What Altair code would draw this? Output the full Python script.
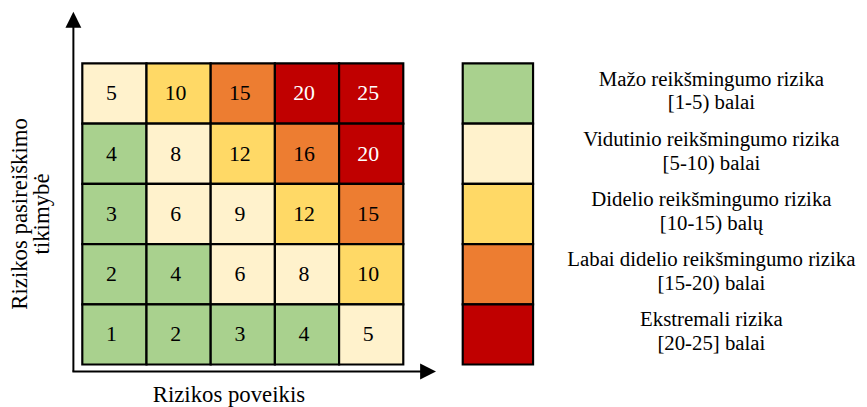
import altair as alt
import pandas as pd

# ---- data ----
impact_levels = [1, 2, 3, 4, 5]          # columns, left -> right
likelihood_levels = [5, 4, 3, 2, 1]      # rows, top -> bottom
score_rows = [
    [5, 10, 15, 20, 25],
    [4, 8, 12, 16, 20],
    [3, 6, 9, 12, 15],
    [2, 4, 6, 8, 10],
    [1, 2, 3, 4, 5],
]
level_names = ["Mažo", "Vidutinio", "Didelio", "Labai didelio", "Ekstremali"]
level_lower = [1, 5, 10, 15, 20]
level_colors = ["#A9D18E", "#FFF2CC", "#FFD966", "#ED7D31", "#C00000"]
level_labels = [
    "Mažo reikšmingumo rizika\n[1-5) balai",
    "Vidutinio reikšmingumo rizika\n[5-10) balai",
    "Didelio reikšmingumo rizika\n[10-15) balų",
    "Labai didelio reikšmingumo rizika\n[15-20) balai",
    "Ekstremali rizika\n[20-25] balai",
]
x_title = "Rizikos poveikis"
y_title = "Rizikos pasireiškimo\ntikimybė"

FONT = "Liberation Serif, Times New Roman, Times, serif"


def level_of(score):
    name = level_names[0]
    for lo, nm in zip(level_lower, level_names):
        if score >= lo:
            name = nm
    return name


rows = []
for li, srow in zip(likelihood_levels, score_rows):
    for im, s in zip(impact_levels, srow):
        lv = level_of(s)
        rows.append({
            "impact": im, "likelihood": li, "score": s, "level": lv,
            "tcolor": "white" if lv == level_names[-1] else "black",
        })
cells = pd.DataFrame(rows)
legend_df = pd.DataFrame({"level": level_names, "label": level_labels})
one = pd.DataFrame({"k": [0]})

color_scale = alt.Scale(domain=level_names, range=level_colors)
xs = alt.X("impact:O", sort=impact_levels, axis=None,
           scale=alt.Scale(paddingInner=0, paddingOuter=0))
ys = alt.Y("likelihood:O", sort=likelihood_levels, axis=None,
           scale=alt.Scale(paddingInner=0, paddingOuter=0))

cell_rect = alt.Chart(cells).mark_rect(stroke="black", strokeWidth=2.2).encode(
    x=xs, y=ys, color=alt.Color("level:N", scale=color_scale, legend=None)
)
cell_text = alt.Chart(cells).mark_text(font=FONT, fontSize=22, dx=-3).encode(
    x=xs, y=ys, text="score:Q", color=alt.Color("tcolor:N", scale=None)
)
matrix = alt.layer(cell_rect, cell_text)

ly = alt.Y("level:N", sort=level_names, axis=None,
           scale=alt.Scale(paddingInner=0, paddingOuter=0))
leg_rect = alt.Chart(legend_df).mark_rect(stroke="black", strokeWidth=2.2).encode(
    x=alt.value(384), x2=alt.value(455), y=ly,
    color=alt.Color("level:N", scale=color_scale, legend=None)
)
leg_text = alt.Chart(legend_df).mark_text(
    font=FONT, fontSize=21, lineBreak="\n", lineHeight=24, dy=-14, color="black"
).encode(x=alt.value(635), y=ly, text="label:N")
legend = alt.layer(leg_rect, leg_text)

# axis arrows
v_line = alt.Chart(one).mark_rule(color="black", strokeWidth=2).encode(
    x=alt.value(-9), y=alt.value(-46), y2=alt.value(311)
)
h_line = alt.Chart(one).mark_rule(color="black", strokeWidth=2).encode(
    x=alt.value(-10), x2=alt.value(350), y=alt.value(311)
)
up_head = alt.Chart(one).mark_point(
    shape="M-1,1L0,-1L1,1Z", filled=True, color="black", opacity=1, size=256, strokeWidth=0
).encode(x=alt.value(-9), y=alt.value(-44))
right_head = alt.Chart(one).mark_point(
    shape="M-1,-1L1,0L-1,1Z", filled=True, color="black", opacity=1, size=256, strokeWidth=0
).encode(x=alt.value(349), y=alt.value(311))

x_title_mark = alt.Chart(pd.DataFrame({"t": [x_title]})).mark_text(
    font=FONT, fontSize=23, baseline="alphabetic", color="black"
).encode(x=alt.value(148), y=alt.value(342), text="t:N")
y_title_mark = alt.Chart(pd.DataFrame({"t": [y_title]})).mark_text(
    font=FONT, fontSize=23, angle=270, align="center", baseline="middle",
    lineBreak="\n", lineHeight=22, color="black"
).encode(x=alt.value(-63), y=alt.value(152), text="t:N")

chart = alt.layer(
    matrix, legend, v_line, h_line, up_head, right_head, x_title_mark, y_title_mark
).resolve_scale(y="independent", x="independent").properties(
    width=324, height=304,
    autosize=alt.AutoSizeParams(type="none"),
    padding={"left": 75, "top": 54, "right": 460, "bottom": 41},
).configure_view(stroke=None)

chart.save("out.html", embed_options={"renderer": "svg", "actions": False})
